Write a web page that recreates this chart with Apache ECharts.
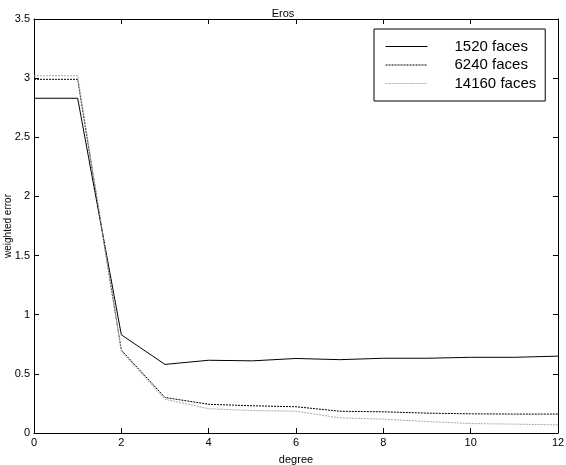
<!DOCTYPE html>
<html>
<head>
<meta charset="utf-8">
<script src="https://cdn.jsdelivr.net/npm/echarts@6/dist/echarts.min.js"></script>
<style>
html,body{margin:0;padding:0;background:#fff;}
#chart{width:566px;height:465px;}
</style>
</head>
<body>
<div id="chart"></div>
<script>
const degrees = [0, 1, 2, 3, 4, 5, 6, 7, 8, 9, 10, 11, 12];
const faces1520 = [2.83, 2.83, 0.83, 0.58, 0.615, 0.61, 0.63, 0.62, 0.632, 0.632, 0.64, 0.64, 0.65];
const faces6240 = [2.99, 2.99, 0.70, 0.30, 0.243, 0.23, 0.222, 0.184, 0.179, 0.168, 0.162, 0.16, 0.16];
const faces14160 = [3.02, 3.02, 0.69, 0.285, 0.205, 0.19, 0.184, 0.128, 0.117, 0.097, 0.08, 0.075, 0.069];
const seriesNames = ['1520 faces', '6240 faces', '14160 faces'];
const xTicks = [0, 2, 4, 6, 8, 10, 12];
const yTicks = [0, 0.5, 1, 1.5, 2, 2.5, 3, 3.5];

const pairs = arr => degrees.map((d, i) => [d, arr[i]]);
const FONT = '"Liberation Sans", Arial, Helvetica, sans-serif';

const axisCommonX = {
  type: 'value', min: xTicks[0], max: xTicks[xTicks.length - 1], interval: xTicks[1] - xTicks[0],
  splitLine: { show: false },
  axisLine: { show: true, onZero: false, lineStyle: { color: '#000', width: 1 } },
  axisTick: { show: true, inside: true, length: 5, lineStyle: { color: '#000' } }
};
const axisCommonY = {
  type: 'value', min: yTicks[0], max: yTicks[yTicks.length - 1], interval: yTicks[1] - yTicks[0],
  splitLine: { show: false },
  axisLine: { show: true, onZero: false, lineStyle: { color: '#000', width: 1 } },
  axisTick: { show: true, inside: true, length: 5, lineStyle: { color: '#000' } }
};

const chart = echarts.init(document.getElementById('chart'), null, { renderer: 'canvas' });
chart.setOption({
  animation: false,
  backgroundColor: '#fff',
  textStyle: { fontFamily: FONT },
  title: {
    text: 'Eros', left: 'center', top: 3,
    textStyle: { fontFamily: FONT, fontSize: 11, fontWeight: 'normal', color: '#000' }
  },
  grid: { left: 34, right: 8, top: 19, bottom: 32, containLabel: false, outerBoundsMode: 'none' },
  legend: {
    orient: 'vertical', left: 374, top: 29,
    padding: [10, 9, 10, 11],
    borderColor: '#000', borderWidth: 1,
    itemWidth: 42, itemHeight: 14, itemGap: 3.5,
    data: seriesNames,
    itemStyle: { opacity: 0 },
    lineStyle: { width: 1 },
    textStyle: { fontFamily: FONT, fontSize: 15, color: '#000', padding: [0, 0, 0, 22] }
  },
  xAxis: [
    Object.assign({}, axisCommonX, {
      position: 'bottom',
      name: 'degree', nameLocation: 'middle', nameGap: 21, nameMoveOverlap: false,
      nameTextStyle: { fontFamily: FONT, fontSize: 11, color: '#000' },
      axisLabel: { show: true, margin: 4, fontFamily: FONT, fontSize: 11, color: '#000' }
    }),
    Object.assign({}, axisCommonX, { position: 'top', axisLabel: { show: false } })
  ],
  yAxis: [
    Object.assign({}, axisCommonY, {
      position: 'left',
      name: 'weighted error', nameLocation: 'middle', nameGap: 21, nameMoveOverlap: false,
      nameTextStyle: { fontFamily: FONT, fontSize: 10, color: '#000' },
      axisLabel: { show: true, margin: 4, fontFamily: FONT, fontSize: 11, color: '#000' }
    }),
    Object.assign({}, axisCommonY, { position: 'right', axisLabel: { show: false } })
  ],
  series: [
    {
      name: seriesNames[0], type: 'line', data: pairs(faces1520), symbol: 'none',
      lineStyle: { color: '#000', width: 1, type: 'solid' }, itemStyle: { color: '#000' }
    },
    {
      name: seriesNames[1], type: 'line', data: pairs(faces6240), symbol: 'none',
      lineStyle: { color: '#000', width: 1, type: [2, 1] }, itemStyle: { color: '#000' }
    },
    {
      name: seriesNames[2], type: 'line', data: pairs(faces14160), symbol: 'none',
      lineStyle: { color: '#aaa', width: 1, type: [2, 1] }, itemStyle: { color: '#aaa' }
    }
  ]
});
</script>
</body>
</html>
